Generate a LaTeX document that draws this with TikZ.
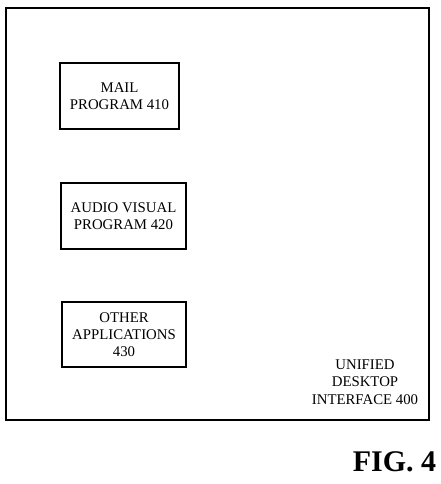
\documentclass[tikz,border=0pt]{standalone}
\usepackage{fontspec}
\setmainfont{Liberation Serif}
\usetikzlibrary{positioning}
\tikzset{
  progbox/.style={draw, line width=1.1pt, align=center, inner sep=0pt,
    font=\fontsize{14.8}{16.8}\selectfont},
}

\begin{document}
\begin{tikzpicture}[x=1pt,y=-1pt]
\useasboundingbox (0,0) rectangle (441,484);
\draw[line width=1.5pt] (6,8) rectangle (429,420);
\node[progbox, minimum width=119pt, minimum height=66pt] (mail) at (119.5,96) {MAIL\\PROGRAM 410};
\node[progbox, minimum width=125pt, minimum height=66pt] (av) at (123.5,216) {AUDIO VISUAL\\PROGRAM 420};
\node[progbox, minimum width=124pt, minimum height=65pt] (other) at (124,334.5) {OTHER\\APPLICATIONS\\430};
\node[align=center, font=\fontsize{14.8}{17.5}\selectfont] (udi) at (365,382) {UNIFIED\\DESKTOP\\INTERFACE 400};
\node[font=\fontsize{30}{32}\selectfont\bfseries] (fig) at (394.5,462) {FIG. 4};
\end{tikzpicture}
\end{document}
